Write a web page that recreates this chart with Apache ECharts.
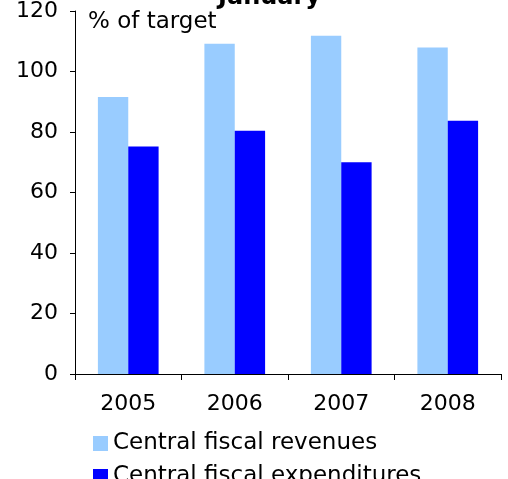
<!DOCTYPE html>
<html>
<head>
<meta charset="utf-8">
<script src="https://cdn.jsdelivr.net/npm/echarts@6/dist/echarts.min.js"></script>
<style>
  html, body { margin: 0; padding: 0; background: #fff; }
  #main { width: 508px; height: 479px; }
</style>
</head>
<body>
<div id="main"></div>
<script>
// data
var years = ['2005', '2006', '2007', '2008'];
var revenues = [91.6, 109.2, 111.8, 107.9];
var expenditures = [75.2, 80.4, 70.0, 83.7];

var font = '"DejaVu Sans", Verdana, sans-serif';
var chart = echarts.init(document.getElementById('main'));

// one legend per row, like the stacked legend in the picture
function legendRow(name, top) {
  return {
    left: 88,
    top: top,
    icon: 'rect',
    itemWidth: 15,
    itemHeight: 15,
    itemGap: 6,
    textStyle: { fontSize: 23, color: '#000', fontFamily: font },
    data: [name]
  };
}

chart.setOption({
  animation: false,
  backgroundColor: '#fff',
  textStyle: { fontFamily: font },
  graphic: [
    {
      type: 'text', left: 218, top: -14,
      style: { text: 'January', font: 'bold 24px ' + font, fill: '#000' }
    },
    {
      type: 'text', left: 88, top: 11,
      style: { text: '% of target', font: '23px ' + font, fill: '#000' }
    }
  ],
  legend: [
    legendRow('Central fiscal revenues', 427),
    legendRow('Central fiscal expenditures', 460)
  ],
  grid: { left: 75, right: 7, top: 6, bottom: 105, containLabel: false },
  xAxis: {
    type: 'category',
    data: years,
    axisLine: { lineStyle: { color: '#000', width: 1 } },
    axisTick: { show: true, length: 6, lineStyle: { color: '#000' } },
    axisLabel: { fontSize: 22, color: '#000', margin: 19, fontFamily: font }
  },
  yAxis: {
    type: 'value',
    min: 0, max: 120, interval: 20,
    axisLine: { show: true, lineStyle: { color: '#000', width: 1 } },
    axisTick: { show: true, length: 5, lineStyle: { color: '#000' } },
    axisLabel: { fontSize: 22, color: '#000', margin: 17, fontFamily: font },
    splitLine: { show: false }
  },
  series: [
    {
      name: 'Central fiscal revenues',
      type: 'bar',
      data: revenues,
      itemStyle: { color: '#99CCFF' },
      barGap: '0%',
      barCategoryGap: '43%'
    },
    {
      name: 'Central fiscal expenditures',
      type: 'bar',
      data: expenditures,
      itemStyle: { color: '#0000FF' }
    }
  ]
});
</script>
</body>
</html>
